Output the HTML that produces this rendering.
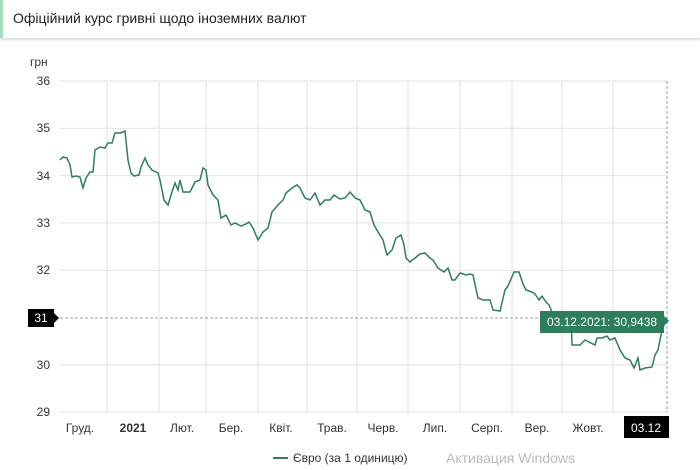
<!DOCTYPE html><html><head><meta charset="utf-8"><style>
body{margin:0;width:700px;height:470px;background:#fff;font-family:"Liberation Sans",sans-serif;overflow:hidden;position:relative}
.hdr{position:absolute;left:0;top:0;width:700px;height:38px;border-left:3px solid #a8dcc0;box-sizing:border-box;box-shadow:0 2px 2px #ddd}
.hdr span{position:absolute;left:10px;top:10px;font-size:14px;color:#222}
</style></head><body>
<div class="hdr"><span>Офіційний курс гривні щодо іноземних валют</span></div>
<svg width="700" height="470" style="position:absolute;left:0;top:0" font-family="Liberation Sans, sans-serif">
<g stroke="#e2e2e2" stroke-width="1">
<line x1="60" x2="667" y1="81" y2="81"/><line x1="60" x2="667" y1="128.3" y2="128.3"/><line x1="60" x2="667" y1="175.6" y2="175.6"/><line x1="60" x2="667" y1="222.9" y2="222.9"/><line x1="60" x2="667" y1="270.2" y2="270.2"/><line x1="60" x2="667" y1="364.8" y2="364.8"/><line x1="60" x2="667" y1="412" y2="412"/>
<line x1="107" x2="107" y1="81" y2="412"/><line x1="159" x2="159" y1="81" y2="412"/><line x1="206" x2="206" y1="81" y2="412"/><line x1="258" x2="258" y1="81" y2="412"/><line x1="307" x2="307" y1="81" y2="412"/><line x1="357" x2="357" y1="81" y2="412"/><line x1="408" x2="408" y1="81" y2="412"/><line x1="460" x2="460" y1="81" y2="412"/><line x1="512" x2="512" y1="81" y2="412"/><line x1="562" x2="562" y1="81" y2="412"/><line x1="613" x2="613" y1="81" y2="412"/>
</g>
<line x1="60" x2="667" y1="318" y2="318" stroke="#999" stroke-dasharray="3,2"/>
<line x1="667" x2="667" y1="81" y2="412" stroke="#999" stroke-dasharray="3,2"/>
<g font-size="12" fill="#333" text-anchor="end">
<text x="50" y="85">36</text><text x="50" y="132">35</text><text x="50" y="180">34</text><text x="50" y="227">33</text><text x="50" y="274">32</text><text x="50" y="369">30</text><text x="50" y="416">29</text>
</g>
<text x="30" y="66" font-size="12" fill="#333">грн</text>
<rect x="28" y="309" width="26" height="18" fill="#000"/><polygon points="54,313 59,318 54,323" fill="#000"/>
<text x="41" y="322" font-size="12" fill="#fff" text-anchor="middle">31</text>
<polyline fill="none" stroke="#2e7d5b" stroke-width="1.5" points="60,160 63,157 67,158 70,165 72,177 76,176 80,177 83,188 86,178 90,172 93,172 95,150 100,147 105,148 108,143 112,143 115,133 120,133 123,132 125,131 128,160 131,173 134,176 139,175 141,167 145,158 148,165 152,170 158,173 160,180 164,200 168,205 172,192 175,183 178,190 180,180 183,192 190,192 195,182 200,180 203,168 206,170 208,185 213,195 218,200 221,218 226,215 231,225 235,223 241,226 246,224 249,222 253,228 258,240 263,232 268,228 272,212 278,205 283,200 286,193 292,188 297,185 300,188 305,198 310,200 315,193 320,205 325,200 330,200 334,195 340,199 345,198 350,192 355,198 360,200 365,210 370,212 374,225 378,232 383,240 387,255 392,250 396,238 401,235 404,245 406,258 410,262 415,258 420,254 425,253 430,258 433,260 438,268 444,272 448,268 452,280 455,280 460,273 466,275 470,274 473,275 478,298 483,300 490,300 493,310 500,311 505,290 508,286 514,272 519,272 523,284 526,290 532,292 535,294 539,300 542,296 546,302 549,305 552,312 555,312 571,316 572,345 580,345 585,340 595,345 597,338 602,338 607,336 610,340 615,338 620,350 625,358 630,360 634,368 638,358 640,370 645,368 652,367 655,355 658,350 662,330 667,318"/>
<rect x="540" y="311" width="124" height="22" fill="#2e7d5b"/><polygon points="664,316 669,321 664,326" fill="#2e7d5b"/>
<text x="602" y="326" font-size="12" fill="#fff" text-anchor="middle">03.12.2021: 30,9438</text>
<g font-size="12" fill="#333" text-anchor="middle">
<text x="80" y="432">Груд.</text><text x="133" y="432" font-weight="bold">2021</text><text x="182" y="432">Лют.</text><text x="231" y="432">Бер.</text><text x="281" y="432">Квіт.</text><text x="332" y="432">Трав.</text><text x="383" y="432">Черв.</text><text x="435" y="432">Лип.</text><text x="487" y="432">Серп.</text><text x="537" y="432">Вер.</text><text x="588" y="432">Жовт.</text>
</g>
<rect x="624" y="416" width="45" height="22" fill="#000"/>
<text x="646" y="432" font-size="12" fill="#fff" text-anchor="middle">03.12</text>
<line x1="273" x2="288" y1="458" y2="458" stroke="#2e7d5b" stroke-width="2"/>
<text x="293" y="462" font-size="12" fill="#333">Євро (за 1 одиницю)</text>
<text x="446" y="463" font-size="14" fill="#bbb">Активация Windows</text>
</svg>
</body></html>
